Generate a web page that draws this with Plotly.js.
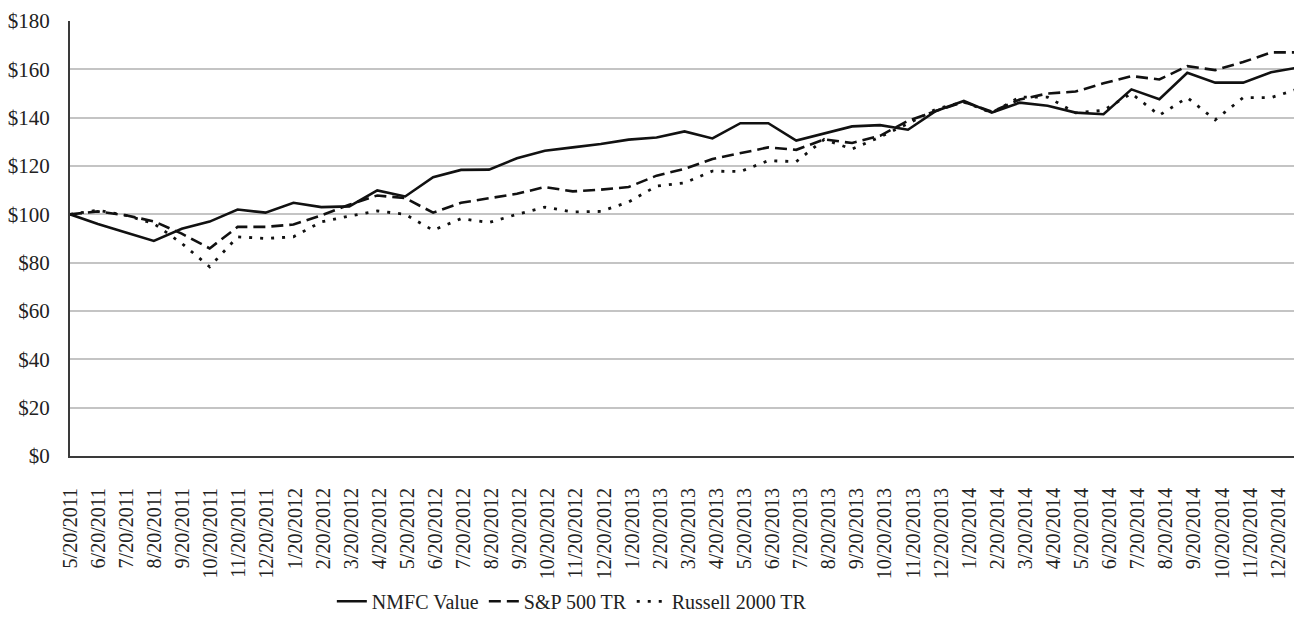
<!DOCTYPE html>
<html>
<head>
<meta charset="utf-8">
<script src="https://cdn.plot.ly/plotly-3.0.1.min.js"></script>
<style>
  html, body { margin: 0; padding: 0; background: #ffffff; }
  #chart { width: 1294px; height: 621px; }
</style>
</head>
<body>
<div id="chart"></div>
<script>
// Tick labels (44 labels shown on the category axis)
const dateLabels = [
  "5/20/2011","6/20/2011","7/20/2011","8/20/2011","9/20/2011","10/20/2011","11/20/2011","12/20/2011",
  "1/20/2012","2/20/2012","3/20/2012","4/20/2012","5/20/2012","6/20/2012","7/20/2012","8/20/2012",
  "9/20/2012","10/20/2012","11/20/2012","12/20/2012","1/20/2013","2/20/2013","3/20/2013","4/20/2013",
  "5/20/2013","6/20/2013","7/20/2013","8/20/2013","9/20/2013","10/20/2013","11/20/2013","12/20/2013",
  "1/20/2014","2/20/2014","3/20/2014","4/20/2014","5/20/2014","6/20/2014","7/20/2014","8/20/2014",
  "9/20/2014","10/20/2014","11/20/2014","12/20/2014"
];

// Series values (value of $100 invested), one per period
const nmfcValue = [100, 96, 92.5, 89, 94, 97, 102, 100.7, 104.8, 103, 103.3, 109.9, 107.4, 115.4, 118.4,
  118.5, 123.2, 126.3, 127.7, 129.1, 130.9, 131.8, 134.3, 131.4, 137.7, 137.7, 130.5, 133.6, 136.4,
  136.9, 135, 142.8, 146.9, 142.1, 146.2, 144.9, 142.1, 141.4, 151.7, 147.6, 158.6, 154.5, 154.5, 158.8, 160.8];
const sp500TR = [100, 101.2, 99.6, 97.1, 92, 85.9, 94.8, 94.8, 95.8, 99.6, 104, 107.8, 106.7, 100.7, 104.8,
  106.5, 108.5, 111.3, 109.5, 110.2, 111.3, 116, 118.8, 122.9, 125.4, 127.7, 126.7, 131, 129.5,
  132.5, 138.7, 142.8, 146.5, 142.5, 147.5, 150, 150.8, 154.2, 157.2, 155.8, 161.3, 159.7, 163, 167, 167];
const russell2000TR = [100, 101.7, 99.6, 96.2, 88, 78.3, 90.7, 90, 90.7, 96.9, 99.3, 101.4, 100, 93.4, 98.2,
  96.6, 100, 103, 101, 101.2, 105.1, 111.7, 113, 117.9, 117.7, 122.2, 121.8, 131, 127,
  132, 137.5, 143.5, 146.5, 142, 148.5, 148.5, 142, 143, 150, 141, 148.3, 139.1, 148.3, 148.3, 152];

const seriesNames = ["NMFC Value", "S&P 500 TR", "Russell 2000 TR"];
const yTicks = [0, 20, 40, 60, 80, 100, 120, 140, 160, 180];

const periodIndex = nmfcValue.map((_, i) => i);
const labelIndex = dateLabels.map((_, i) => i);

const serif = "'Liberation Serif', 'Times New Roman', serif";

const traces = [
  { x: periodIndex, y: nmfcValue, name: seriesNames[0], type: "scatter", mode: "lines",
    line: { color: "#111111", width: 2.6, dash: "solid" } },
  { x: periodIndex, y: sp500TR, name: seriesNames[1], type: "scatter", mode: "lines",
    line: { color: "#111111", width: 2.6, dash: "12px,6px" } },
  { x: periodIndex, y: russell2000TR, name: seriesNames[2], type: "scatter", mode: "lines",
    line: { color: "#111111", width: 2.8, dash: "3px,8px" } },
  { x: [], y: [], xaxis: "x2", yaxis: "y", showlegend: false, hoverinfo: "skip", type: "scatter", mode: "lines" }
];

const layout = {
  width: 1294, height: 621,
  margin: { l: 70, r: 0, t: 21, b: 162 },
  paper_bgcolor: "#ffffff", plot_bgcolor: "#ffffff",
  font: { family: serif, size: 20, color: "#222222" },
  showlegend: true,
  legend: {
    orientation: "h", x: 0.41, xanchor: "center", y: -0.334, yanchor: "middle",
    font: { family: serif, size: 20, color: "#222222" },
    itemwidth: 30, traceorder: "normal", bgcolor: "rgba(0,0,0,0)"
  },
  xaxis: {
    type: "linear", range: [0, 43.82],
    showticklabels: false, ticks: "", showgrid: false, zeroline: false,
    showline: true, linecolor: "#3a3a3a", linewidth: 2
  },
  xaxis2: {
    type: "linear", overlaying: "x", anchor: "y", side: "bottom",
    range: [-0.01, 43.56],
    tickmode: "array", tickvals: labelIndex, ticktext: dateLabels,
    tickangle: -90, ticks: "", ticklabelstandoff: 27,
    tickfont: { family: serif, size: 20, color: "#222222" },
    showgrid: false, zeroline: false, showline: false
  },
  yaxis: {
    range: [0, 180], tickmode: "array", tickvals: yTicks,
    ticktext: yTicks.map(v => "$" + v),
    tickfont: { family: serif, size: 21, color: "#222222" },
    ticks: "", ticklabelstandoff: 14,
    showgrid: true, gridcolor: "#c4c4c4", gridwidth: 2,
    zeroline: false, showline: true, linecolor: "#3a3a3a", linewidth: 2
  }
};

Plotly.newPlot("chart", traces, layout, { staticPlot: true, displayModeBar: false });
</script>
</body>
</html>
